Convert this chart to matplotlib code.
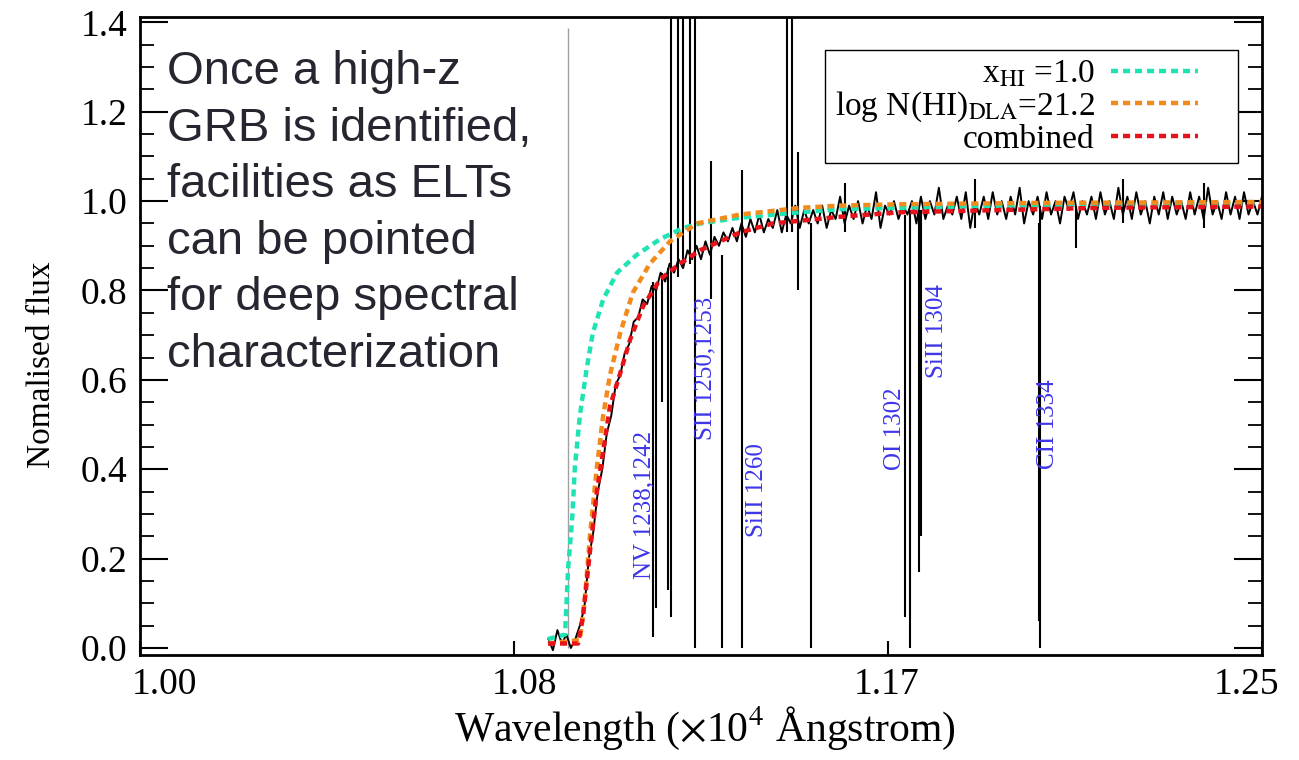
import matplotlib.pyplot as plt
import numpy as np
from matplotlib.ticker import MultipleLocator, FormatStrFormatter
from matplotlib.transforms import ScaledTranslation
from matplotlib.patches import Rectangle

plt.rcParams['font.family'] = ['Liberation Serif', 'DejaVu Serif']
plt.rcParams['mathtext.fontset'] = 'stix'

# model curves, wavelength in 1e4 Angstrom
cyan_wave = [1.0909, 1.0947, 1.0954, 1.0963, 1.0969, 1.0980, 1.0996, 1.1009, 1.1032, 1.1063,
             1.1107, 1.1159, 1.1210, 1.1248, 1.1337, 1.1471, 1.1560, 1.1693, 1.1916, 1.2200, 1.2500]
cyan_flux = [0.02, 0.03, 0.18, 0.29, 0.405, 0.52, 0.63, 0.705, 0.78, 0.84,
             0.88, 0.915, 0.94, 0.95, 0.963, 0.975, 0.982, 0.985, 0.99, 0.992, 0.994]

orange_wave = [1.0909, 1.0980, 1.0991, 1.1003, 1.1018, 1.1032, 1.1047, 1.1070, 1.1098, 1.1136,
               1.1181, 1.1241, 1.1337, 1.1471, 1.1560, 1.1693, 1.2000, 1.2500]
orange_flux = [0.01, 0.018, 0.107, 0.257, 0.405, 0.52, 0.61, 0.705, 0.795, 0.86,
               0.91, 0.95, 0.97, 0.985, 0.99, 0.993, 0.996, 0.998]

red_wave = [1.0909, 1.0976, 1.0987, 1.1003, 1.1018, 1.1032, 1.1047, 1.1070, 1.1092, 1.1121,
            1.1159, 1.1203, 1.1248, 1.1337, 1.1410, 1.1560, 1.1693, 1.1916, 1.2139, 1.2500]
red_flux = [0.01, 0.01, 0.07, 0.22, 0.35, 0.44, 0.54, 0.615, 0.69, 0.765,
            0.825, 0.86, 0.89, 0.93, 0.95, 0.965, 0.975, 0.98, 0.985, 0.988]

# observed spectrum, sampled every 0.001 from 1.091 to 1.250
spec_start = 1.091
spec_step = 0.001
spec_flux = [0.02, -0.005, 0.04, 0.01, 0.03, 0.00, 0.02, 0.05, 0.09, 0.20,
             0.26, 0.35, 0.40, 0.48, 0.52, 0.59, 0.61, 0.66, 0.68, 0.73,
             0.74, 0.78, 0.77, 0.81, 0.80, 0.84, 0.82, 0.86, 0.84, 0.87,
             0.85, 0.89, 0.87, 0.90, 0.87, 0.91, 0.88, 0.92, 0.90, 0.93,
             0.91, 0.94, 0.91, 0.95, 0.92, 0.96, 0.93, 0.97, 0.93, 0.96,
             0.94, 0.98, 0.93, 0.97, 0.95, 0.99, 0.94, 0.98, 0.95, 0.98,
             0.95, 0.99, 0.94, 0.98, 0.96, 1.01, 0.95, 0.99, 0.96, 1.00,
             0.95, 0.99, 0.96, 1.02, 0.94, 0.99, 0.97, 1.00, 0.96, 0.99,
             0.97, 1.00, 0.95, 1.01, 0.96, 1.00, 0.97, 1.03, 0.96, 0.99,
             0.97, 1.01, 0.96, 1.02, 0.94, 1.00, 0.97, 1.01, 0.96, 1.02,
             0.97, 1.00, 0.96, 1.01, 0.97, 1.03, 0.95, 1.00, 0.97, 1.01,
             0.96, 1.02, 0.97, 1.00, 0.95, 1.01, 0.98, 1.02, 0.96, 1.00,
             0.97, 1.01, 0.96, 1.02, 0.97, 1.00, 0.96, 1.03, 0.97, 1.01,
             0.96, 1.02, 0.97, 1.00, 0.95, 1.01, 0.97, 1.02, 0.96, 1.01,
             0.97, 1.00, 0.96, 1.02, 0.97, 1.01, 0.96, 1.03, 0.97, 1.00,
             0.96, 1.02, 0.97, 1.01, 0.96, 1.02, 0.97, 1.00, 0.97, 1.01]

# narrow absorption / spike features: wavelength, lower and upper flux
line_wave = [1.1143, 1.1150, 1.1163, 1.1177, 1.1183, 1.1199, 1.1210, 1.1225, 1.1237, 1.1272,
             1.1297, 1.1341, 1.1442, 1.1453, 1.1466, 1.1495, 1.1705, 1.1716, 1.1736, 1.1740,
             1.2003, 1.2005, 1.2086, 1.1570, 1.1860, 1.2190, 1.2370]
line_low = [0.025, 0.09, 0.55, 0.13, 0.07, 0.83, 0.85, 0.86, 0.0, 0.78,
            0.0, 0.0, 0.93, 0.93, 0.80, 0.0, 0.07, 0.0, 0.17, 0.25,
            0.06, 0.0, 0.895, 0.93, 0.94, 0.95, 0.94]
line_high = [0.82, 0.80, 0.84, 0.85, 1.45, 1.45, 1.45, 1.45, 1.45, 1.09,
             0.88, 1.07, 1.45, 1.45, 1.11, 0.95, 0.97, 0.98, 0.98, 0.98,
             0.95, 0.99, 0.99, 1.04, 1.05, 1.05, 1.04]

lya_wave = 1.0954
lya_top = 1.387

label_text = ['NV 1238,1242', 'SII 1250,1253', 'SiII 1260', 'OI 1302', 'SiII 1304', 'CII 1334']
label_wave = [1.1125, 1.1259, 1.1375, 1.1682, 1.1776, 1.2023]
label_flux = [0.32, 0.626, 0.353, 0.49, 0.71, 0.50]

legend_labels = [r'x$_{\rm HI}$ =1.0', r'log N(HI)$_{\rm DLA}$=21.2', 'combined']

xtick_vals = [1.0, 1.0833, 1.1667, 1.25]
xtick_text = ['1.00', '1.08', '1.17', '1.25']

note = ('Once a high-z\nGRB is identified,\nfacilities as ELTs\n'
        'can be pointed\nfor deep spectral\ncharacterization')

spec_wave = np.round(spec_start + spec_step * np.arange(len(spec_flux)), 4)

fig = plt.figure(figsize=(12.99, 7.6), dpi=100)
ax = fig.add_axes([0.1078, 0.138, 0.8637, 0.8396])

ax.vlines(lya_wave, 0.0, lya_top, color='#a0a0a0', lw=1.0)
ax.plot(spec_wave, spec_flux, color='black', lw=1.4)
ax.vlines(line_wave, line_low, line_high, color='black', lw=1.5)

dash = (0, (1.6, 1.1))
l1, = ax.plot(cyan_wave, cyan_flux, color='#1fe3b2', lw=3.2, ls=dash)
l2, = ax.plot(orange_wave, orange_flux, color='#f28a1c', lw=3.2, ls=dash)
l3, = ax.plot(red_wave, red_flux, color='#e8121a', lw=3.2, ls=dash)

for t, w, f in zip(label_text, label_wave, label_flux):
    ax.text(w, f, t, rotation=90, ha='center', va='center', color='#3d35e8', fontsize=18)

# legend box drawn on its own so the dashes can sit away from the right edge
box = Rectangle((0.6105, 0.771), 0.368, 0.177, transform=ax.transAxes, facecolor='white',
                edgecolor='black', lw=1.0, zorder=4.9)
ax.add_patch(box)
leg = ax.legend([l1, l2, l3], legend_labels, loc='upper right', bbox_to_anchor=(0.943, 0.934),
                markerfirst=False, frameon=False, fontsize=24,
                handlelength=2.6, handletextpad=0.5, labelspacing=0.0, borderpad=0.0,
                borderaxespad=0.0)

ax.set_xlim(1.0, 1.25)
ax.set_ylim(-0.016, 1.412)
ax.set_xticks(xtick_vals)
ax.set_xticklabels(xtick_text)
ax.yaxis.set_major_locator(MultipleLocator(0.2))
ax.yaxis.set_minor_locator(MultipleLocator(0.05))
ax.yaxis.set_major_formatter(FormatStrFormatter('%.1f'))
ax.tick_params(axis='x', direction='in', length=10, width=1.5, labelsize=27, pad=9, top=False)
ax.tick_params(axis='y', which='major', direction='in', length=20, width=1.5, labelsize=27,
               pad=9, left=True, right=True)
ax.tick_params(axis='y', which='minor', direction='in', length=10, width=1.3, left=True, right=True)
for s in ax.spines.values():
    s.set_linewidth(2)

# the printed x labels sit a little inside their ticks in the original
label_shift = [24, 11, -2, -15]
for lab, dx in zip(ax.get_xticklabels(), label_shift):
    lab.set_transform(lab.get_transform() + ScaledTranslation(dx / 100, 0, fig.dpi_scale_trans))

ax.set_xlabel(r'Wavelength ($\times$10$^4$ Ångstrom)', fontsize=30)
ax.xaxis.set_label_coords(0.503, -0.078)
ax.set_ylabel('Nomalised flux', fontsize=24)
ax.yaxis.set_label_coords(-0.074, 0.455)

fig.text(0.1286, 0.934, note, ha='left', va='top', fontsize=34, color='#262630',
         family=['Liberation Sans', 'DejaVu Sans'], linespacing=1.37)

plt.savefig('out.png', dpi=100)
